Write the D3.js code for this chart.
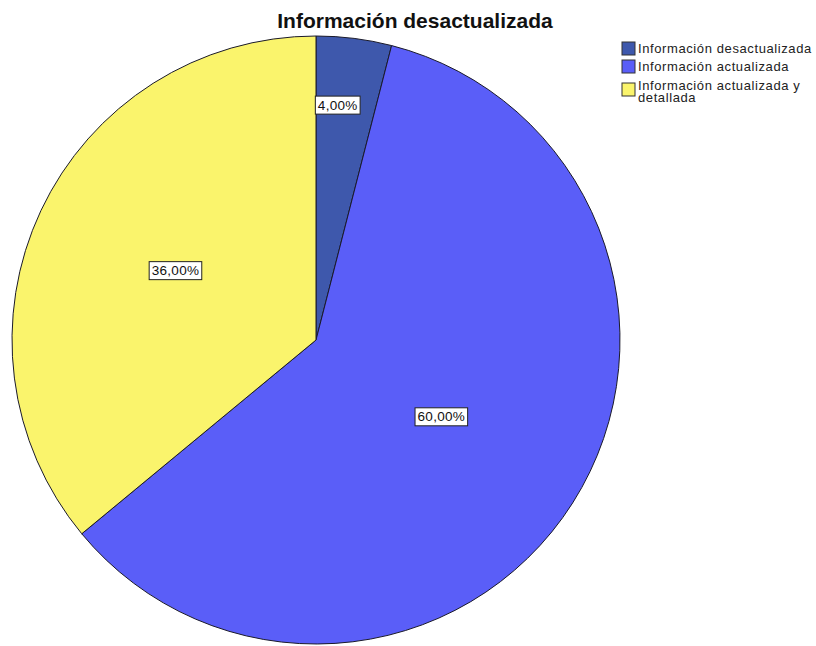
<!DOCTYPE html>
<html>
<head>
<meta charset="utf-8">
<script src="https://cdn.jsdelivr.net/npm/d3@7"></script>
<style>
  body { margin: 0; background: #fff; }
  svg { display: block; font-family: Arial, "Liberation Sans", sans-serif; }
</style>
</head>
<body>
<svg id="chart" width="816" height="646"></svg>
<script>
const title = 'Información desactualizada';
const categories = ['Información desactualizada', 'Información actualizada', 'Información actualizada y detallada'];
const legendLines = [['Información desactualizada'], ['Información actualizada'], ['Información actualizada y', 'detallada']];
const percents = [4, 60, 36];
const sliceColor = ['#3e58ac', '#5a5ef8', '#faf46c'];

const svg = d3.select('#chart');
const cx = 316, cy = 340, r = 304;

svg.append('text')
    .attr('x', 415).attr('y', 28)
    .attr('text-anchor', 'middle')
    .attr('font-size', 21).attr('font-weight', 'bold')
    .attr('fill', '#111')
    .text(title);

const pie = d3.pie().sort(null).value((d) => d);
const arcs = pie(percents);
const arc = d3.arc().innerRadius(0).outerRadius(r);

const g = svg.append('g').attr('transform', `translate(${cx},${cy})`);

g.selectAll('path')
    .data(arcs)
    .join('path')
    .attr('d', arc)
    .attr('fill', (d, i) => sliceColor[i])
    .attr('stroke', '#1a1a2a')
    .attr('stroke-width', 1);

// small slices get their label further out
const isSmall = (d) => (d.endAngle - d.startAngle) < 0.5;
function labelPos(d) {
    const k = isSmall(d) ? 0.78 : 0.5;
    const [x, y] = d3.arc().innerRadius(r * k).outerRadius(r * k).centroid(d);
    return isSmall(d) ? [x - 8, y] : [x - 3, y - 5];
}

const fmt = (v) => d3.format('.2f')(v).replace('.', ',') + '%';

const labels = g.selectAll('g.lbl')
    .data(arcs)
    .join('g')
    .attr('class', 'lbl')
    .attr('transform', (d) => `translate(${labelPos(d)})`);

labels.append('text')
    .attr('text-anchor', 'middle')
    .attr('dy', '0.36em')
    .attr('font-size', 13.5)
    .attr('letter-spacing', 0.3)
    .attr('fill', '#111')
    .text((d) => fmt(d.data))
    .each(function () {
        const b = this.getBBox();
        d3.select(this.parentNode).insert('rect', 'text')
            .attr('x', b.x - 2.5).attr('y', b.y - 1.5)
            .attr('width', b.width + 5).attr('height', b.height + 3)
            .attr('fill', '#fff')
            .attr('stroke', '#222')
            .attr('stroke-width', 1);
    });

const legend = svg.append('g').attr('transform', 'translate(622,42)');
const rowY = [0, 18, 37];

const items = legend.selectAll('g')
    .data(categories)
    .join('g')
    .attr('transform', (d, i) => `translate(0,${rowY[i]})`);

items.append('rect')
    .attr('y', (d, i) => legendLines[i].length > 1 ? 4 : 0)
    .attr('width', 13).attr('height', 13)
    .attr('fill', (d, i) => sliceColor[i])
    .attr('stroke', '#333')
    .attr('stroke-width', 1);

items.append('text')
    .attr('y', 11)
    .attr('font-size', 13)
    .attr('letter-spacing', 0.6)
    .attr('fill', '#222')
    .selectAll('tspan')
    .data((d, i) => legendLines[i])
    .join('tspan')
    .attr('x', 16)
    .attr('dy', (d, j) => j ? 12 : 0)
    .text((d) => d);
</script>
</body>
</html>
